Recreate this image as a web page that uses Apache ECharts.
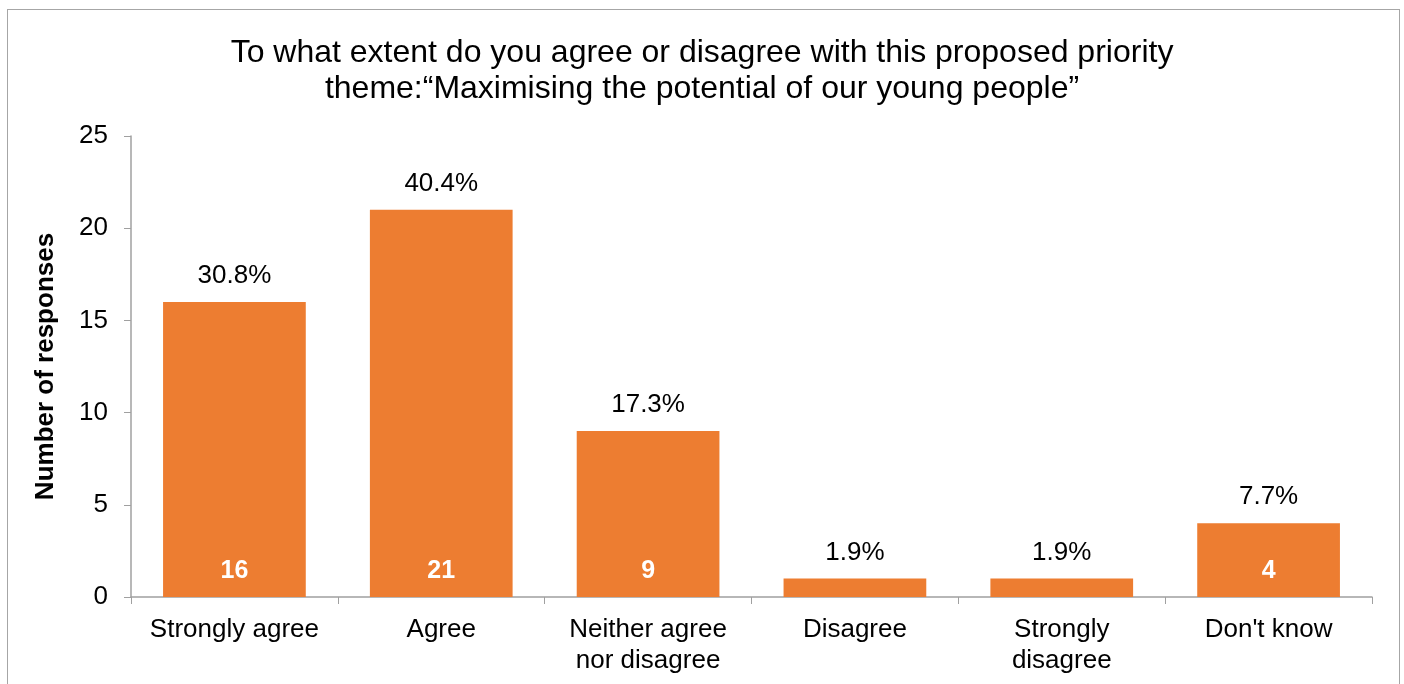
<!DOCTYPE html>
<html>
<head>
<meta charset="utf-8">
<script src="https://cdn.jsdelivr.net/npm/echarts@6/dist/echarts.min.js"></script>
<style>
html,body{margin:0;padding:0;background:#fff;}
#frame{position:absolute;left:7px;top:9px;width:1393px;height:700px;border:1.5px solid #A6A6A6;box-sizing:border-box;}
#chart{position:absolute;left:0;top:0;width:1404px;height:684px;}
</style>
</head>
<body>
<div id="frame"></div>
<div id="chart"></div>
<script>
const titleText = 'To what extent do you agree or disagree with this proposed priority\ntheme:\u201cMaximising the potential of our young people\u201d';
const categories = ['Strongly agree', 'Agree', 'Neither agree\nnor disagree', 'Disagree', 'Strongly\ndisagree', "Don't know"];
const counts = [16, 21, 9, 1, 1, 4];
const percents = ['30.8%', '40.4%', '17.3%', '1.9%', '1.9%', '7.7%'];
const yTicks = [0, 5, 10, 15, 20, 25];

const font = 'Arial, "Liberation Sans", sans-serif';
const chart = echarts.init(document.getElementById('chart'));
chart.setOption({
  animation: false,
  title: {
    text: titleText,
    left: 'center',
    top: 30,
    textStyle: { fontFamily: font, fontSize: 32, fontWeight: 'normal', color: '#000', lineHeight: 36 }
  },
  grid: { left: 131, right: 32, top: 136, bottom: 87 },
  xAxis: {
    type: 'category',
    data: categories,
    axisLine: { lineStyle: { color: '#A0A0A0', width: 1.5 } },
    axisTick: { show: true, length: 7, lineStyle: { color: '#A0A0A0' } },
    axisLabel: { fontFamily: font, fontSize: 26, color: '#000', margin: 17, lineHeight: 31, interval: 0 }
  },
  yAxis: {
    type: 'value',
    min: yTicks[0],
    max: yTicks[yTicks.length - 1],
    interval: 5,
    name: 'Number of responses',
    nameLocation: 'middle',
    nameGap: 72,
    nameRotate: 90,
    nameTextStyle: { fontFamily: font, fontSize: 26, fontWeight: 'bold', color: '#000' },
    splitLine: { show: false },
    axisLine: { show: true, lineStyle: { color: '#A0A0A0', width: 1.5 } },
    axisTick: { show: true, length: 7, lineStyle: { color: '#A0A0A0' } },
    axisLabel: { fontFamily: font, fontSize: 26, color: '#000', margin: 23 }
  },
  series: [
    {
      type: 'bar',
      data: counts,
      barCategoryGap: '31%',
      itemStyle: { color: '#ED7D31' },
      label: {
        show: true,
        position: 'insideBottom',
        distance: 13,
        fontFamily: font,
        fontSize: 25,
        fontWeight: 'bold',
        color: '#fff',
        formatter: p => (p.value >= 2 ? String(p.value) : '')
      },
      z: 2
    },
    {
      type: 'bar',
      data: counts,
      barGap: '-100%',
      barCategoryGap: '31%',
      itemStyle: { color: 'rgba(0,0,0,0)' },
      label: {
        show: true,
        position: 'top',
        distance: 13,
        fontFamily: font,
        fontSize: 26,
        color: '#000',
        formatter: p => percents[p.dataIndex]
      },
      z: 1
    }
  ]
});
</script>
</body>
</html>
